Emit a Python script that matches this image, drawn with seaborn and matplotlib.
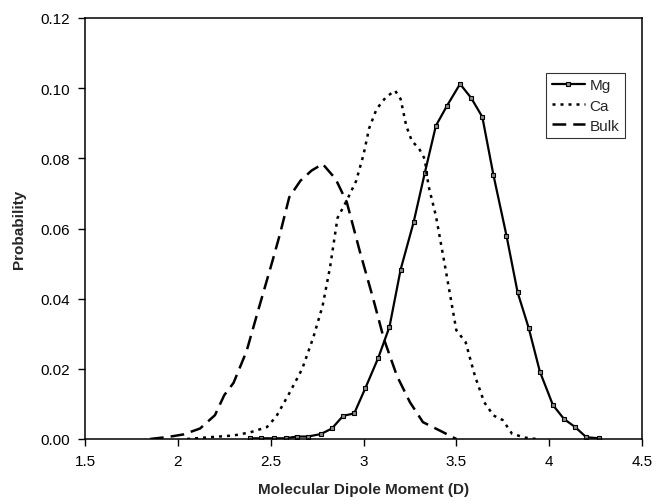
import numpy as np
import matplotlib
matplotlib.use("Agg")
import matplotlib.pyplot as plt
import seaborn as sns

# Mg (markers every ~0.0625 D)
mg_x = [2.39, 2.45, 2.52, 2.58, 2.64, 2.70, 2.77, 2.83, 2.89, 2.95, 3.01, 3.08, 3.14,
        3.20, 3.27, 3.33, 3.39, 3.45, 3.52, 3.58, 3.64, 3.70, 3.77, 3.83, 3.89, 3.95,
        4.02, 4.08, 4.14, 4.20, 4.27]
mg_y = [0.0002, 0.0002, 0.0002, 0.0002, 0.0007, 0.0007, 0.0014, 0.0030, 0.0066, 0.0073,
        0.0145, 0.0232, 0.0320, 0.0483, 0.0618, 0.0758, 0.0893, 0.0950, 0.1012, 0.0972,
        0.0918, 0.0752, 0.0580, 0.0418, 0.0316, 0.0192, 0.0097, 0.0057, 0.0034, 0.0005,
        0.0002]

# Ca
ca_x = [2.05, 2.17, 2.30, 2.39, 2.48, 2.53, 2.60, 2.67, 2.73, 2.78, 2.82, 2.86, 2.91,
        2.96, 3.00, 3.03, 3.07, 3.12, 3.17, 3.20, 3.23, 3.26, 3.30, 3.33, 3.35, 3.39,
        3.44, 3.50, 3.55, 3.60, 3.65, 3.70, 3.75, 3.80, 3.87, 3.93]
ca_y = [0.0, 0.0005, 0.0010, 0.0019, 0.0034, 0.0064, 0.0130, 0.0200, 0.0290, 0.0380,
        0.0490, 0.0630, 0.0680, 0.0735, 0.0810, 0.0885, 0.0940, 0.0974, 0.0993, 0.0969,
        0.0893, 0.0850, 0.0827, 0.0798, 0.0722, 0.0636, 0.0490, 0.0310, 0.0276, 0.0180,
        0.0105, 0.0067, 0.0054, 0.0015, 0.0004, 0.0]

# Bulk
bulk_x = [1.85, 1.95, 2.03, 2.12, 2.20, 2.25, 2.30, 2.37, 2.44, 2.51, 2.55, 2.60, 2.66,
          2.72, 2.78, 2.85, 2.91, 2.98, 3.05, 3.11, 3.18, 3.25, 3.32, 3.43, 3.50]
bulk_y = [0.0, 0.0006, 0.0013, 0.0030, 0.0068, 0.0125, 0.0160, 0.0250, 0.0380, 0.0508,
          0.0584, 0.0689, 0.0736, 0.0765, 0.0784, 0.0741, 0.0675, 0.0535, 0.0404, 0.0285,
          0.0180, 0.0105, 0.0048, 0.0019, 0.0]

x_ticks = [1.5, 2, 2.5, 3, 3.5, 4, 4.5]
y_ticks = [0.00, 0.02, 0.04, 0.06, 0.08, 0.10, 0.12]

sns.set_style("ticks")
plt.rcParams['font.family'] = ['Liberation Sans', 'DejaVu Sans']

fig = plt.figure(figsize=(6.53, 5.02), dpi=100)
ax = fig.add_axes([85 / 653, 62 / 502, 557 / 653, 421 / 502])

sns.lineplot(x=mg_x, y=mg_y, ax=ax, color='black', lw=1.6, marker='s', markersize=3.5,
             markerfacecolor='#888888', markeredgecolor='black', markeredgewidth=0.8,
             estimator=None, label='Mg')
sns.lineplot(x=ca_x, y=ca_y, ax=ax, color='black', lw=1.8, linestyle=(0, (1.2, 2.0)),
             estimator=None, label='Ca')
sns.lineplot(x=bulk_x, y=bulk_y, ax=ax, color='black', lw=1.8, linestyle=(0, (5.5, 2.8)),
             estimator=None, label='Bulk')

ax.set_xlim(1.5, 4.5)
ax.set_ylim(0, 0.12)
ax.set_xticks(x_ticks)
ax.set_xticklabels([f"{t:g}" for t in x_ticks])
ax.set_yticks(y_ticks)
ax.set_yticklabels([f"{t:.2f}" for t in y_ticks])
ax.tick_params(direction='out', length=5, width=1, colors='black', labelsize=11, pad=6)

for s in ax.spines.values():
    s.set_visible(True)
    s.set_color('black')
    s.set_linewidth(1.1)

ax.set_xlabel('Molecular Dipole Moment (D)', fontsize=11, fontweight='bold', labelpad=10)
ax.set_ylabel('Probability', fontsize=11, fontweight='bold', labelpad=10)

leg = ax.legend(loc='upper left', bbox_to_anchor=(0.828, 0.869), fontsize=11,
                frameon=True, fancybox=False, handlelength=2.2, handletextpad=0.3,
                borderpad=0.35, labelspacing=0.4, borderaxespad=0, numpoints=1)
leg.get_frame().set_edgecolor('black')
leg.get_frame().set_linewidth(0.8)

fig.savefig('out.png', dpi=100)
